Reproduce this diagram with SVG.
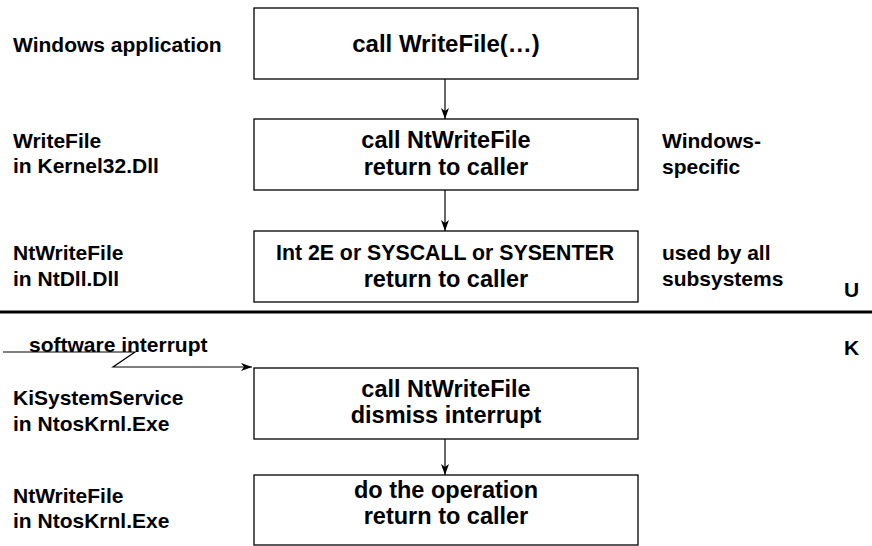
<svg xmlns="http://www.w3.org/2000/svg" width="872" height="546" viewBox="0 0 872 546">
<style>
  .box { fill: #fff; stroke: #000; stroke-width: 1.3; }
  .bt { font-family: "Liberation Sans", Arial, sans-serif; font-weight: bold; font-size: 23.5px; text-anchor: middle; fill: #000; }
  .lb { font-family: "Liberation Sans", Arial, sans-serif; font-weight: bold; font-size: 21px; fill: #000; }
  .ln { fill: none; stroke: #000; stroke-width: 1.2; }
</style>
<defs>
  <marker id="ah" markerWidth="12" markerHeight="8" refX="11" refY="4" orient="auto" markerUnits="userSpaceOnUse">
    <path d="M0,0 L11,4 L0,8 L3,4 Z" fill="#000"/>
  </marker>
</defs>
<rect width="872" height="546" fill="#fff"/>
<g id="labels">
  <text class="lb" x="13" y="52">Windows application</text>
  <text class="lb" x="13" y="148">WriteFile</text>
  <text class="lb" x="13" y="173">in Kernel32.Dll</text>
  <text class="lb" x="13" y="260">NtWriteFile</text>
  <text class="lb" x="13" y="286">in NtDll.Dll</text>
  <text class="lb" x="13" y="405">KiSystemService</text>
  <text class="lb" x="13" y="431">in NtosKrnl.Exe</text>
  <text class="lb" x="13" y="503">NtWriteFile</text>
  <text class="lb" x="13" y="528">in NtosKrnl.Exe</text>
  <text class="lb" x="662" y="148">Windows-</text>
  <text class="lb" x="662" y="174">specific</text>
  <text class="lb" x="662" y="260">used by all</text>
  <text class="lb" x="662" y="286">subsystems</text>
  <text class="lb" x="844" y="297">U</text>
  <text class="lb" x="844" y="355">K</text>
  <text class="lb" x="29" y="352">software interrupt</text>
</g>
<g id="n1">
  <rect class="box" x="254" y="8" width="384" height="71"/>
  <text class="bt" x="446" y="52" style="font-size:24px">call WriteFile(…)</text>
</g>
<g id="n2">
  <rect class="box" x="254" y="119" width="384" height="71"/>
  <text class="bt" x="446" y="148">call NtWriteFile</text>
  <text class="bt" x="446" y="175">return to caller</text>
</g>
<g id="n3">
  <rect class="box" x="254" y="231" width="384" height="71"/>
  <text class="bt" x="445" y="260" style="font-size:21.3px">Int 2E or SYSCALL or SYSENTER</text>
  <text class="bt" x="446" y="287">return to caller</text>
</g>
<g id="n4">
  <rect class="box" x="254" y="368" width="384" height="71"/>
  <text class="bt" x="446" y="397">call NtWriteFile</text>
  <text class="bt" x="446" y="423">dismiss interrupt</text>
</g>
<g id="n5">
  <rect class="box" x="254" y="475" width="384" height="70"/>
  <text class="bt" x="446" y="498">do the operation</text>
  <text class="bt" x="446" y="524">return to caller</text>
</g>
<g id="connectors">
  <line x1="0" y1="312" x2="872" y2="312" stroke="#000" stroke-width="3"/>
  <line class="ln" x1="445" y1="79" x2="445" y2="119" marker-end="url(#ah)"/>
  <line class="ln" x1="445" y1="190" x2="445" y2="231" marker-end="url(#ah)"/>
  <line class="ln" x1="445" y1="439" x2="445" y2="475" marker-end="url(#ah)"/>
  <polyline class="ln" points="3,352 135,352 113,367 252,367" marker-end="url(#ah)"/>
</g>
</svg>
